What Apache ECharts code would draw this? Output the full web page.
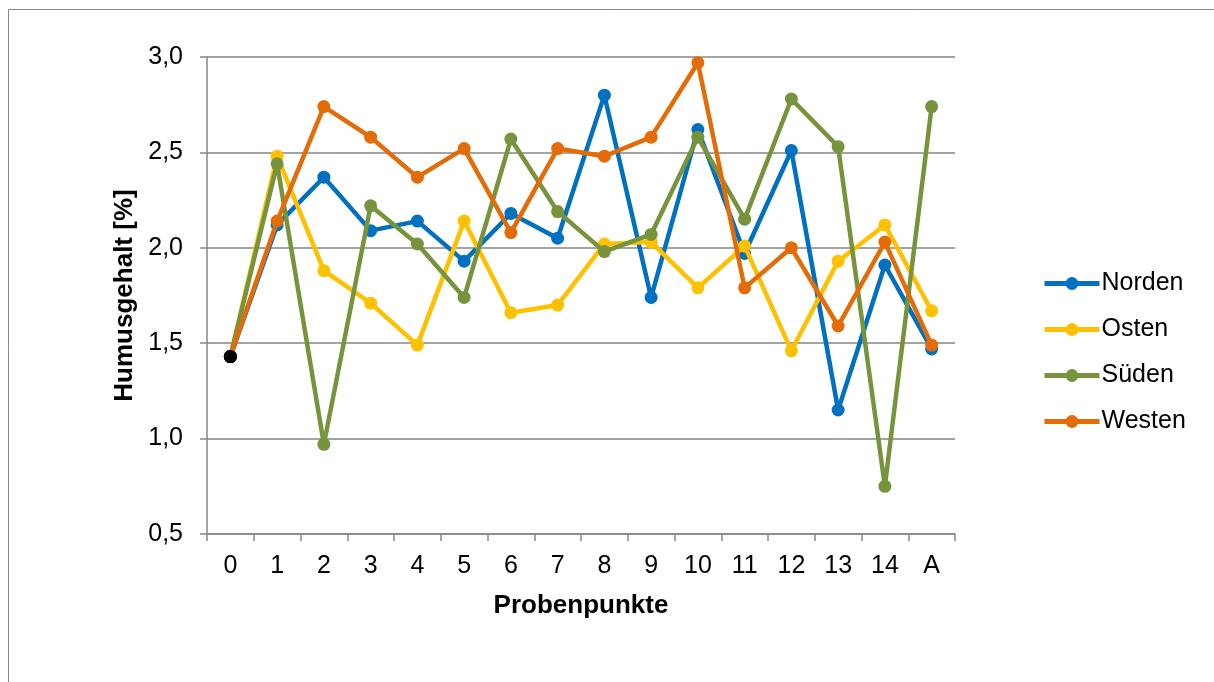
<!DOCTYPE html>
<html>
<head>
<meta charset="utf-8">
<script src="https://cdn.jsdelivr.net/npm/echarts@6/dist/echarts.min.js"></script>
<style>
html,body{margin:0;padding:0;background:#fff;}
#c{width:1214px;height:682px;}
</style>
</head>
<body>
<div id="c"></div>
<script>
const categories = ['0','1','2','3','4','5','6','7','8','9','10','11','12','13','14','A'];
const norden = [1.43, 2.12, 2.37, 2.09, 2.14, 1.93, 2.18, 2.05, 2.80, 1.74, 2.62, 1.97, 2.51, 1.15, 1.91, 1.47];
const osten  = [1.43, 2.48, 1.88, 1.71, 1.49, 2.14, 1.66, 1.70, 2.02, 2.03, 1.79, 2.01, 1.46, 1.93, 2.12, 1.67];
const sueden = [1.43, 2.44, 0.97, 2.22, 2.02, 1.74, 2.57, 2.19, 1.98, 2.07, 2.58, 2.15, 2.78, 2.53, 0.75, 2.74];
const westen = [1.43, 2.14, 2.74, 2.58, 2.37, 2.52, 2.08, 2.52, 2.48, 2.58, 2.97, 1.79, 2.00, 1.59, 2.03, 1.49];
const seriesNames = ['Norden','Osten','Süden','Westen'];
const seriesData = [norden, osten, sueden, westen];
const colors = ['#0070C0','#FFC000','#77933C','#E36C09'];
const yTicks = {min:0.5, max:3.0, interval:0.5};

const chart = echarts.init(document.getElementById('c'), null, {renderer:'canvas'});
const gridColor = '#868686';
const font = 'Liberation Sans, Arial, sans-serif';

const series = seriesData.map((arr, si) => ({
  name: seriesNames[si],
  type: 'line',
  data: arr.map((v, i) => i === 0 ? {value: v, itemStyle: {color: '#000'}} : v),
  symbol: 'circle',
  symbolSize: 13,
  showAllSymbol: true,
  color: colors[si],
  lineStyle: {width: 4.5, color: colors[si]},
  itemStyle: {color: colors[si]},
  emphasis: {disabled: true},
  animation: false,
  z: 2 + si
}));

chart.setOption({
  animation: false,
  textStyle: {fontFamily: font},
  graphic: [{
    type: 'rect',
    shape: {x: 8.5, y: 9.5, width: 1230, height: 700},
    style: {fill: 'none', stroke: '#888888', lineWidth: 1},
    silent: true, z: -1
  }],
  grid: {left: 207, right: 259, top: 57, bottom: 148, containLabel: false},
  legend: {
    orient: 'vertical',
    left: 1042,
    top: 271,
    padding: 0,
    itemWidth: 55,
    itemHeight: 16,
    itemGap: 21,
    data: seriesNames,
    lineStyle: {width: 5},
    textStyle: {fontSize: 25, color: '#000', fontFamily: font, padding: [0,0,0,-3]},
    selectedMode: false
  },
  xAxis: {
    type: 'category',
    data: categories,
    boundaryGap: true,
    name: 'Probenpunkte',
    nameLocation: 'middle',
    nameGap: 59,
    nameTextStyle: {fontSize: 26, fontWeight: 'bold', color: '#000', fontFamily: font},
    axisLine: {lineStyle: {color: gridColor, width: 1.5}},
    axisTick: {show: true, alignWithLabel: false, length: 7, lineStyle: {color: gridColor, width: 1.5}},
    axisLabel: {fontSize: 25, color: '#000', margin: 20, fontFamily: font, interval: 0},
    splitLine: {show: false}
  },
  yAxis: {
    type: 'value',
    min: yTicks.min, max: yTicks.max, interval: yTicks.interval,
    name: 'Humusgehalt [%]',
    nameLocation: 'middle',
    nameGap: 68,
    nameRotate: 90,
    nameTextStyle: {fontSize: 26, fontWeight: 'bold', color: '#000', fontFamily: font},
    axisLine: {show: true, lineStyle: {color: gridColor, width: 1.5}},
    axisTick: {show: true, length: 7, lineStyle: {color: gridColor, width: 1.5}},
    axisLabel: {fontSize: 25, color: '#000', margin: 24, fontFamily: font,
      formatter: v => v.toFixed(1).replace('.', ',')},
    splitLine: {show: true, lineStyle: {color: gridColor, width: 1.5}}
  },
  series: series
});
</script>
</body>
</html>
